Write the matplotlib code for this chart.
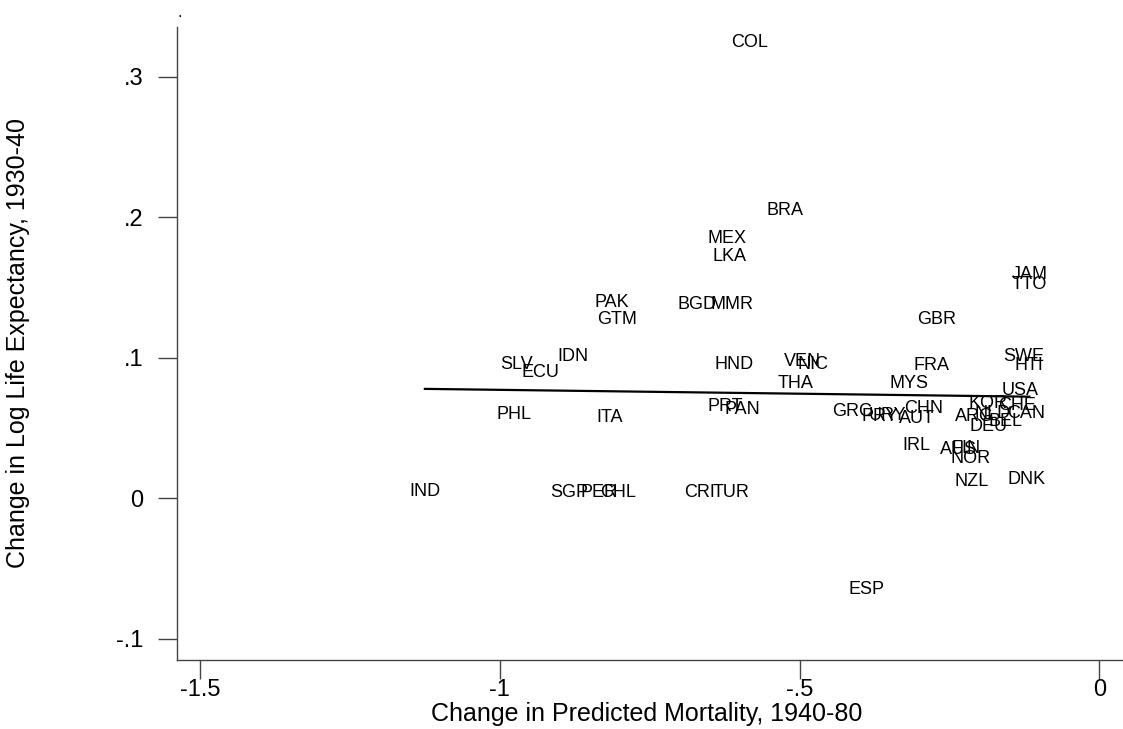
import numpy as np
import matplotlib
matplotlib.use("Agg")
import matplotlib.pyplot as plt

plt.rcParams['font.family'] = ['Liberation Sans', 'DejaVu Sans']

countries = ["COL", "BRA", "MEX", "LKA", "PAK", "GTM", "BGD", "MMR", "JAM", "TTO",
             "GBR", "SLV", "ECU", "IDN", "HND", "VEN", "NIC", "FRA", "SWE", "HTI",
             "THA", "MYS", "USA", "PHL", "ITA", "PRT", "PAN", "GRC", "PRY", "URY",
             "AUT", "CHN", "KOR", "CHE", "ARG", "NLD", "CAN", "BEL", "DEU", "IRL",
             "AUS", "FIN", "NOR", "NZL", "DNK", "IND", "SGP", "PER", "CHL", "CRI",
             "TUR", "ESP"]
mortality_change = [-0.583, -0.525, -0.621, -0.617, -0.813, -0.805, -0.672, -0.613, -0.117, -0.117,
                    -0.271, -0.972, -0.932, -0.878, -0.610, -0.496, -0.477, -0.280, -0.126, -0.117,
                    -0.507, -0.318, -0.132, -0.977, -0.817, -0.624, -0.596, -0.413, -0.367, -0.353,
                    -0.305, -0.294, -0.186, -0.138, -0.208, -0.178, -0.122, -0.156, -0.185, -0.305,
                    -0.235, -0.223, -0.215, -0.214, -0.122, -1.125, -0.884, -0.835, -0.803, -0.667,
                    -0.614, -0.388]
lifeexp_change = [0.3246, 0.205, 0.185, 0.172, 0.139, 0.127, 0.138, 0.138, 0.159, 0.152,
                  0.127, 0.0949, 0.0894, 0.1008, 0.0949, 0.0972, 0.0949, 0.0942, 0.1008, 0.0942,
                  0.0814, 0.0814, 0.0766, 0.060, 0.0574, 0.0652, 0.0629, 0.0619, 0.0581, 0.0588,
                  0.057, 0.0641, 0.0676, 0.0664, 0.0581, 0.0606, 0.0606, 0.0546, 0.051, 0.0373,
                  0.0344, 0.0356, 0.0285, 0.0119, 0.0131, 0.0046, 0.004, 0.004, 0.004, 0.004,
                  0.004, -0.0651]

# fitted line (as drawn in the reference)
fit_intercept = 0.0717
fit_slope = -0.0055

xticks = [-1.5, -1, -0.5, 0]
xticklabels = ["-1.5", "-1", "-.5", "0"]
yticks = [-0.1, 0, 0.1, 0.2, 0.3]
yticklabels = ["-.1", "0", ".1", ".2", ".3"]

x = np.array(mortality_change)
y = np.array(lifeexp_change)

fig = plt.figure(figsize=(11.23, 7.29), dpi=100)
ax = fig.add_axes([0.1573, 0.0947, 0.8415, 0.8687])

for c, xi, yi in zip(countries, x, y):
    ax.text(xi, yi, c, ha='center', va='center', fontsize=13, color='black')

xs = np.array([x.min(), x.max()])
ax.plot(xs, fit_intercept + fit_slope * xs, color='black', lw=1.6)

ax.set_xlim(-1.539, 0.037)
ax.set_ylim(-0.115, 0.3356)
ax.set_xticks(xticks)
ax.set_xticklabels(xticklabels)
ax.set_yticks(yticks)
ax.set_yticklabels(yticklabels)

for s in ['top', 'right']:
    ax.spines[s].set_visible(False)
for s in ['left', 'bottom']:
    ax.spines[s].set_color('#444444')
    ax.spines[s].set_linewidth(1.0)
ax.tick_params(axis='both', length=14, width=1.0, color='#444444', labelsize=17, labelcolor='black')
ax.tick_params(axis='x', pad=0)
ax.tick_params(axis='y', pad=10)

ax.set_xlabel("Change in Predicted Mortality, 1940-80", fontsize=18)
ax.set_ylabel("Change in Log Life Expectancy, 1930-40", fontsize=18)
ax.xaxis.set_label_coords(0.4975, -0.066)
ax.yaxis.set_label_coords(-0.155, 0.5)

fig.text(180 / 1123, 1 - 12.7 / 729, ".", fontsize=12, ha='center', va='center')

fig.savefig("out.png", dpi=100)
